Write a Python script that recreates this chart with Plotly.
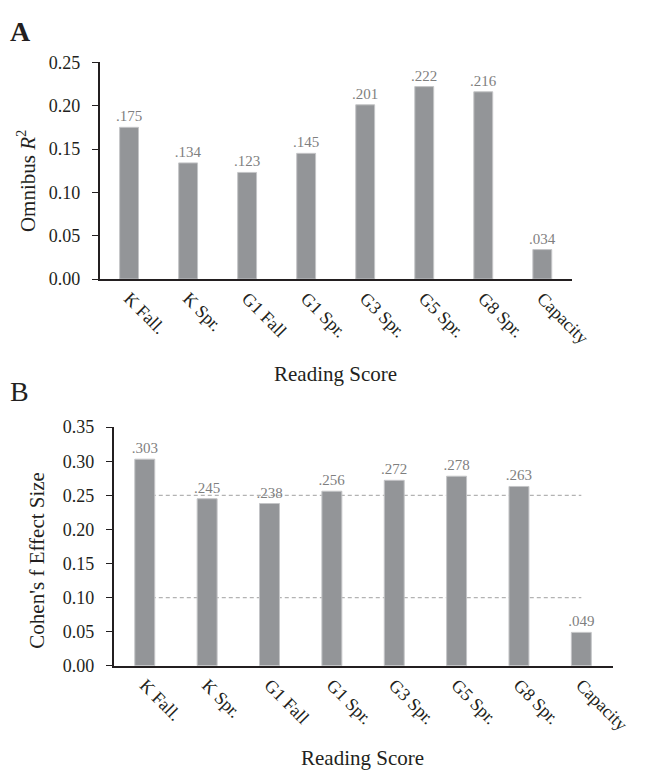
import plotly.graph_objects as go

categories = ["K Fall.", "K Spr.", "G1 Fall", "G1 Spr.", "G3 Spr.", "G5 Spr.", "G8 Spr.", "Capacity"]
r2_values = [0.175, 0.134, 0.123, 0.145, 0.201, 0.222, 0.216, 0.034]
f_values = [0.303, 0.245, 0.238, 0.256, 0.272, 0.278, 0.263, 0.049]
ref_lines = [0.25, 0.10]
r2_ticks = [0.00, 0.05, 0.10, 0.15, 0.20, 0.25]
f_ticks = [0.00, 0.05, 0.10, 0.15, 0.20, 0.25, 0.30, 0.35]

FONT = "Liberation Serif"
BAR = "#939598"
INK = "#231f20"
W, H = 640, 773  # page body adds an 8px margin


def lab(v):
    return f"{v:.3f}".lstrip("0")


def px(x):
    return x / W


def py(y):
    return 1 - y / H


fig = go.Figure()

for xa, ya, vals in (("x", "y", r2_values), ("x2", "y2", f_values)):
    fig.add_trace(go.Bar(
        x=categories, y=vals, xaxis=xa, yaxis=ya,
        marker=dict(color=BAR, line=dict(color="#c4c5c7", width=1)),
        text=[lab(v) for v in vals], textposition="outside",
        constraintext="none",
        textfont=dict(family=FONT, size=15, color="#7f7f7f"),
        cliponaxis=False, showlegend=False, width=0.32,
    ))

shapes = []
for yv in ref_lines:
    shapes.append(dict(
        type="line", xref="x2", yref="y2", x0=0, x1=len(categories) - 1,
        y0=yv, y1=yv, layer="below",
        line=dict(color="#b3b3b3", width=1.2, dash="4px,3px"),
    ))

xaxis_common = dict(
    showgrid=False, zeroline=False, showline=True, linecolor=INK,
    linewidth=1.5, tickfont=dict(family=FONT, size=18, color=INK),
    tickangle=45, ticks="", range=[-0.5, 7.5],
)
yaxis_common = dict(
    showgrid=False, zeroline=False, showline=True, linecolor=INK,
    linewidth=1.5, tickfont=dict(family=FONT, size=18, color=INK),
    tickformat=".2f", ticks="outside", ticklen=6, tickcolor=INK,
    tickwidth=1.2, ticklabelstandoff=8,
)

fig.update_layout(
    width=W, height=H,
    margin=dict(l=0, r=0, t=0, b=0),
    paper_bgcolor="white", plot_bgcolor="white",
    font=dict(family=FONT, color=INK),
    shapes=shapes,
    xaxis=dict(domain=[px(94.5), px(582)], anchor="y", **xaxis_common),
    yaxis=dict(domain=[py(268), py(45.5)], anchor="x", range=[0, 0.25],
               tickvals=r2_ticks, **yaxis_common),
    xaxis2=dict(domain=[px(109), px(624)], anchor="y2", **xaxis_common),
    yaxis2=dict(domain=[py(665), py(420)], anchor="x2", range=[0, 0.35],
                tickvals=f_ticks, **yaxis_common),
    annotations=[
        dict(text="<b>A</b>", x=px(0), y=py(-4), xref="paper", yref="paper",
             xanchor="left", yanchor="top", showarrow=False,
             font=dict(family=FONT, size=28, color=INK)),
        dict(text="B", x=px(0), y=py(365), xref="paper", yref="paper",
             xanchor="left", yanchor="top", showarrow=False,
             font=dict(family=FONT, size=28, color=INK)),
        dict(text="Omnibus <i>R</i><sup>2</sup>", x=px(19), y=py(167),
             xref="paper", yref="paper", textangle=-90, showarrow=False,
             xanchor="center", yanchor="middle",
             font=dict(family=FONT, size=21, color=INK)),
        dict(text="Reading Score", x=px(338), y=py(365),
             xref="paper", yref="paper", showarrow=False,
             xanchor="center", yanchor="middle",
             font=dict(family=FONT, size=21, color=INK)),
        dict(text="Cohen's f Effect Size", x=px(30), y=py(557),
             xref="paper", yref="paper", textangle=-90, showarrow=False,
             xanchor="center", yanchor="middle",
             font=dict(family=FONT, size=21, color=INK)),
        dict(text="Reading Score", x=px(366), y=py(760),
             xref="paper", yref="paper", showarrow=False,
             xanchor="center", yanchor="middle",
             font=dict(family=FONT, size=21, color=INK)),
    ],
)

fig.write_html("out.html")
